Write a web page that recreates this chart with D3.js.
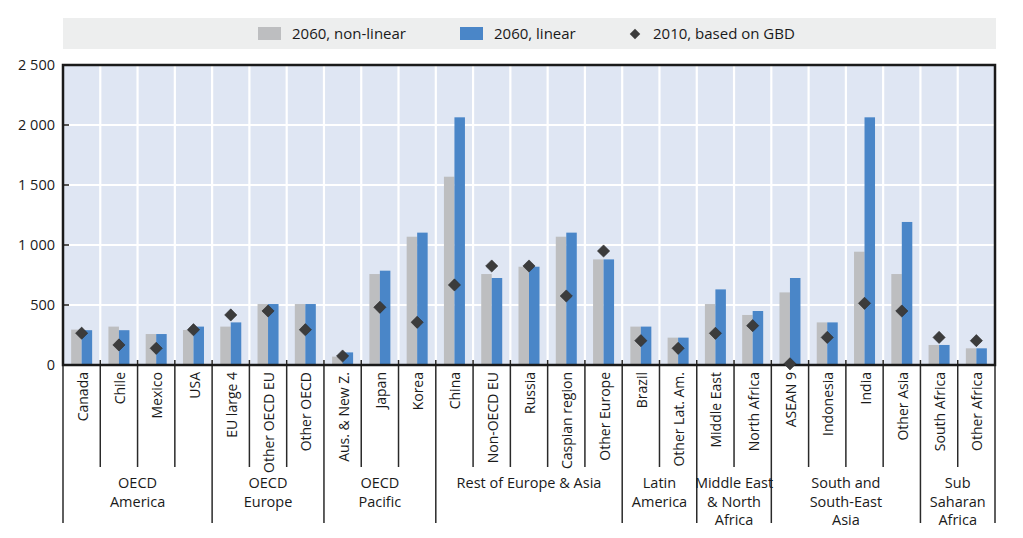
<!DOCTYPE html>
<html>
<head>
<meta charset="utf-8">
<script src="https://cdn.jsdelivr.net/npm/d3@7"></script>
<style>
  html, body { margin: 0; padding: 0; background: #ffffff; }
  svg { display: block; }
  text { font-family: "Open Sans", "Noto Sans", sans-serif; fill: #1a1a1a; }
</style>
</head>
<body>
<svg id="chart" width="1023" height="538"></svg>
<script>
// ---- Data ----
const categories = ["Canada","Chile","Mexico","USA","EU large 4","Other OECD EU","Other OECD",
  "Aus. & New Z.","Japan","Korea","China","Non-OECD EU","Russia","Caspian region","Other Europe",
  "Brazil","Other Lat. Am.","Middle East","North Africa","ASEAN 9","Indonesia","India","Other Asia",
  "South Africa","Other Africa"];
const groups = [
  {lines: ["OECD","America"], size: 4},
  {lines: ["OECD","Europe"], size: 3},
  {lines: ["OECD","Pacific"], size: 3},
  {lines: ["Rest of Europe & Asia"], size: 5},
  {lines: ["Latin","America"], size: 2},
  {lines: ["Middle East","& North","Africa"], size: 2},
  {lines: ["South and","South-East","Asia"], size: 4},
  {lines: ["Sub","Saharan","Africa"], size: 2}
];
const nonLinear2060 = [295,320,258,292,320,508,508,70,758,1069,1569,758,819,1069,880,320,228,508,417,605,355,944,758,167,139];
const linear2060    = [290,290,258,320,355,508,508,105,786,1103,2064,725,819,1103,880,320,228,630,450,725,355,2064,1192,167,139];
const gbd2010       = [265,167,139,294,417,450,294,75,481,356,667,825,825,575,950,203,139,264,328,10,230,514,450,230,203];
const yTicks = [0,500,1000,1500,2000,2500];
const seriesNames = ["2060, non-linear","2060, linear","2010, based on GBD"];

// ---- Layout ----
const L = 63, R = 995, T = 65, B = 365;
const colGrey = "#bdbec0", colBlue = "#4a86c8", colDiamond = "#3c3c3c";
const svg = d3.select("#chart");

const x = d3.scaleBand().domain(categories).range([L, R]).padding(0);
const y = d3.scaleLinear().domain([0, 2500]).range([B, T]);
const barW = 10.5;

// Legend band
svg.append("rect").attr("x", 63).attr("y", 18).attr("width", 933).attr("height", 31).attr("fill", "#edeeee");
const lg = svg.append("g");
lg.append("rect").attr("x", 258).attr("y", 27).attr("width", 23).attr("height", 13).attr("fill", colGrey);
lg.append("text").attr("x", 292).attr("y", 39).attr("font-size", 15).text(seriesNames[0]);
lg.append("rect").attr("x", 460).attr("y", 27).attr("width", 23).attr("height", 13).attr("fill", colBlue);
lg.append("text").attr("x", 494).attr("y", 39).attr("font-size", 15).text(seriesNames[1]);
lg.append("path").attr("d", d3.symbol(d3.symbolDiamond2, 70)()).attr("transform", "translate(635,34)").attr("fill", colDiamond);
lg.append("text").attr("x", 653).attr("y", 39).attr("font-size", 15).text(seriesNames[2]);

// Plot background
svg.append("rect").attr("x", L).attr("y", T).attr("width", R - L).attr("height", B - T).attr("fill", "#dfe6f3");

// Grid lines
const grid = svg.append("g").attr("stroke", "#ffffff").attr("stroke-width", 2.2);
yTicks.filter(d => d > 0 && d < 2500).forEach(d => {
  grid.append("line").attr("x1", L).attr("x2", R).attr("y1", y(d)).attr("y2", y(d));
});
categories.slice(1).forEach(c => {
  grid.append("line").attr("x1", x(c)).attr("x2", x(c)).attr("y1", T).attr("y2", B);
});

// Bars
const cx = c => x(c) + x.bandwidth() / 2;
svg.append("g").selectAll("rect").data(categories).join("rect")
  .attr("x", d => cx(d) - barW).attr("width", barW)
  .attr("y", (d, i) => y(nonLinear2060[i])).attr("height", (d, i) => B - y(nonLinear2060[i]))
  .attr("fill", colGrey);
svg.append("g").selectAll("rect").data(categories).join("rect")
  .attr("x", d => cx(d)).attr("width", barW)
  .attr("y", (d, i) => y(linear2060[i])).attr("height", (d, i) => B - y(linear2060[i]))
  .attr("fill", colBlue);

// Y axis labels and inner ticks
const yAxis = d3.axisLeft(y).tickValues(yTicks).tickSize(0).tickPadding(8)
  .tickFormat(d => d3.format(",")(d).replace(",", " "));
const ya = svg.append("g").attr("transform", `translate(${L},0)`).call(yAxis);
ya.select(".domain").remove();
ya.selectAll("text").attr("font-size", 14.5).attr("fill", "#1a1a1a").attr("font-family", '"Open Sans", sans-serif');
yTicks.filter(d => d > 0 && d < 2500).forEach(d => {
  svg.append("line").attr("x1", L).attr("x2", L + 6).attr("y1", y(d)).attr("y2", y(d)).attr("stroke", "#1a1a1a").attr("stroke-width", 1.5);
});

// Category separators below axis
const sepG = svg.append("g").attr("stroke", "#2a2a2a").attr("stroke-width", 1.5);
let idx = 0;
const groupStarts = new Set();
const groupBounds = [];
groups.forEach(g => { groupStarts.add(idx); groupBounds.push([idx, idx + g.size]); idx += g.size; });
categories.forEach((c, i) => {
  const isGroup = groupStarts.has(i);
  sepG.append("line").attr("x1", x(c)).attr("x2", x(c)).attr("y1", B - 5).attr("y2", isGroup ? 523 : 467);
});
sepG.append("line").attr("x1", R).attr("x2", R).attr("y1", B).attr("y2", 523);

// Frame
svg.append("rect").attr("x", L).attr("y", T).attr("width", R - L).attr("height", B - T)
  .attr("fill", "none").attr("stroke", "#1a1a1a").attr("stroke-width", 2.5);

// Diamonds
svg.append("g").selectAll("path").data(categories).join("path")
  .attr("d", d3.symbol(d3.symbolDiamond2, 95)())
  .attr("transform", (d, i) => `translate(${cx(d)},${y(gbd2010[i])})`)
  .attr("fill", colDiamond).attr("stroke", "#2a2a2a").attr("stroke-width", 0.6);

// Category labels (rotated)
svg.append("g").selectAll("text").data(categories).join("text")
  .attr("transform", d => `translate(${cx(d) + 1},372) rotate(-90)`)
  .attr("text-anchor", "end").attr("dy", "0.36em")
  .attr("font-size", 14).text(d => d);

// Group labels
const gl = svg.append("g");
groupBounds.forEach((b, gi) => {
  const x0 = x(categories[b[0]]);
  const x1 = b[1] < categories.length ? x(categories[b[1]]) : R;
  const t = gl.append("text").attr("text-anchor", "middle").attr("font-size", 14.5)
    .attr("x", (x0 + x1) / 2).attr("y", 488);
  groups[gi].lines.forEach((ln, li) => {
    t.append("tspan").attr("x", (x0 + x1) / 2).attr("y", 488 + li * 18.5).text(ln);
  });
});
</script>
</body>
</html>
